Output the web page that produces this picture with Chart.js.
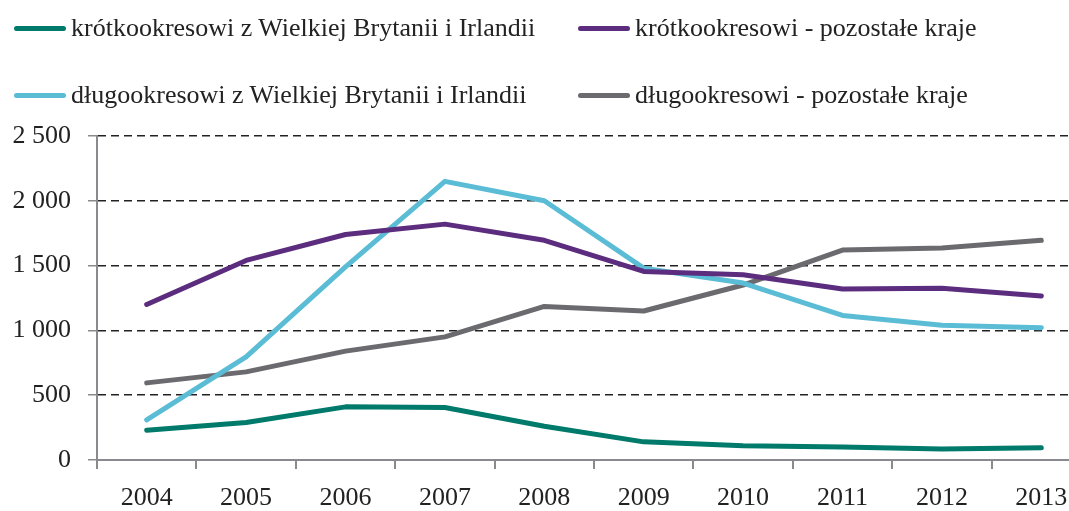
<!DOCTYPE html>
<html>
<head>
<meta charset="utf-8">
<script src="https://cdn.jsdelivr.net/npm/chart.js@4"></script>
<style>
  html, body { margin: 0; padding: 0; background: #fff; overflow: hidden; }
  #wrap { position: relative; width: 1069px; height: 511px; overflow: hidden; }
  #chart { position: absolute; left: 0; top: 0; }
  .leg { position: absolute; font-family: 'Liberation Serif', serif; font-size: 26px; color: #222; white-space: nowrap; line-height: 30px; }
  .leg i { position: absolute; height: 5px; border-radius: 3px; top: 13px; }
</style>
</head>
<body>
<div id="wrap">
  <canvas id="chart" width="1095" height="511"></canvas>
  <div id="legend"></div>
</div>
<script>
const years = ['2004', '2005', '2006', '2007', '2008', '2009', '2010', '2011', '2012', '2013'];
const seriesNames = [
  'krótkookresowi z Wielkiej Brytanii i Irlandii',
  'krótkookresowi - pozostałe kraje',
  'długookresowi z Wielkiej Brytanii i Irlandii',
  'długookresowi - pozostałe kraje'
];
const shortUkIe = [230, 290, 410, 405, 260, 140, 110, 100, 85, 95];
const shortOther = [1200, 1540, 1740, 1820, 1695, 1455, 1430, 1320, 1325, 1265];
const longUkIe = [310, 795, 1490, 2150, 2000, 1480, 1365, 1115, 1040, 1020];
const longOther = [595, 680, 840, 950, 1185, 1150, 1350, 1620, 1635, 1695];
const colors = ['#007a6b', '#5c2d7e', '#5bbcd6', '#6b6a6f'];

const datasets = [shortUkIe, shortOther, longUkIe, longOther].map((data, i) => ({
  label: seriesNames[i],
  data: data,
  borderColor: colors[i],
  backgroundColor: colors[i],
  borderWidth: 5,
  borderCapStyle: 'round',
  borderJoinStyle: 'round',
  pointRadius: 0,
  tension: 0
}));

// legend: two rows, two columns
const legendPos = [[14, 13], [578, 13], [14, 80], [578, 80]];
const legendEl = document.getElementById('legend');
seriesNames.forEach((name, i) => {
  const div = document.createElement('div');
  div.className = 'leg';
  div.style.left = legendPos[i][0] + 'px';
  div.style.top = legendPos[i][1] + 'px';
  div.style.paddingLeft = '57px';
  div.innerHTML = '<i style="left:0;width:52px;background:' + colors[i] + '"></i>' + name;
  legendEl.appendChild(div);
});

const fmt = v => String(v).replace(/\B(?=(\d{3})+(?!\d))/g, ' ');
const tickFont = { family: 'Liberation Serif', size: 26 };

new Chart(document.getElementById('chart'), {
  type: 'line',
  data: { labels: years, datasets: datasets },
  options: {
    responsive: false,
    animation: false,
    layout: { padding: { top: 136, right: 4, left: 0, bottom: 0 } },
    plugins: { legend: { display: false }, tooltip: { enabled: false } },
    scales: {
      x: {
        offset: true,
        grid: { offset: true, drawOnChartArea: false, color: '#8a8a8e', lineWidth: 2, tickLength: 9 },
        border: { color: '#8a8a8e', width: 2 },
        ticks: { color: '#222', font: tickFont, padding: 14, maxRotation: 0 },
        afterFit: s => { s.height = 51; }
      },
      y: {
        min: 0,
        max: 2500,
        ticks: { stepSize: 500, color: '#222', font: tickFont, padding: 17, callback: v => fmt(v) },
        grid: {
          color: ctx => ctx.tick && ctx.tick.value === 0 ? 'rgba(0,0,0,0)' : '#222',
          lineWidth: 1.5,
          tickColor: '#8a8a8e',
          tickLength: 9
        },
        border: { color: '#8a8a8e', width: 2, dash: [8, 5] },
        afterFit: s => { s.width = 97; }
      }
    }
  }
});
</script>
</body>
</html>
